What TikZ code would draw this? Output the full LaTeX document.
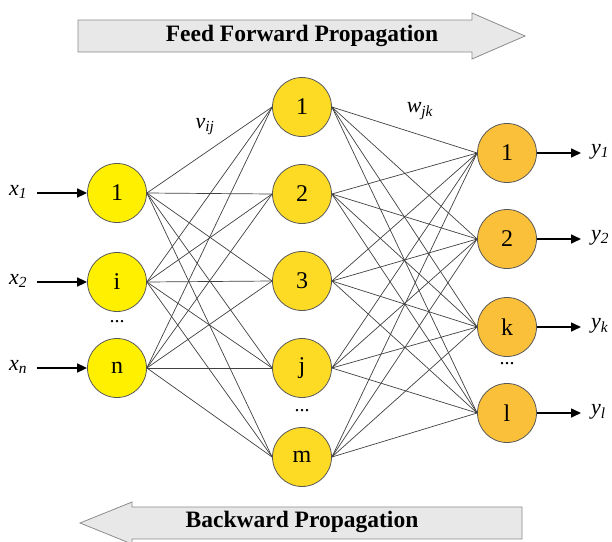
\documentclass[tikz,border=0pt]{standalone}
\usepackage{fontspec}
\setmainfont{Liberation Serif}
\usetikzlibrary{arrows.meta}
\definecolor{inyellow}{RGB}{255,240,0}
\definecolor{hidgold}{RGB}{253,218,36}
\definecolor{outorange}{RGB}{251,192,58}
\definecolor{bandgray}{RGB}{232,232,232}
\newcommand{\sublab}[2]{\textit{#1}\textsubscript{\textit{#2}}}
\tikzset{
	neuron/.style={circle, draw=black!65, line width=0.8pt, minimum size=59pt, inner sep=0pt, font=\fontsize{24}{24}\selectfont},
	weight/.style={draw=black!75, line width=0.7pt},
	signal/.style={-{Triangle[length=10pt,width=9pt]}, line width=1.6pt},
	band/.style={draw=black!45, fill=bandgray, line width=0.8pt},
	varlab/.style={font=\fontsize{22}{22}\selectfont, inner sep=2pt},
	dotlab/.style={font=\fontsize{20}{20}\selectfont},
}

\begin{document}
\begin{tikzpicture}[x=1pt, y=-1pt]
			%%%%% START %%%%%
			\useasboundingbox (0, 0) rectangle (612, 541);
			
			% propagation bands
			\draw[band] (78, 20) -- (472, 20) -- (472, 13) -- (525, 36) -- (472, 59) -- (472, 52) -- (78, 52) -- cycle;
			\node[font=\bfseries\fontsize{23.5}{24}\selectfont] (fwd) at (302, 36) {Feed Forward Propagation};
			\draw[band] (522, 507) -- (132, 507) -- (132, 502) -- (80, 523) -- (132, 544) -- (132, 539) -- (522, 539) -- cycle;
			\node[font=\bfseries\fontsize{23.5}{24}\selectfont] (bwd) at (302, 522) {Backward Propagation};
			
			% input layer
			\node[neuron, fill=inyellow] (i1) at (117, 193) {1};
			\node[neuron, fill=inyellow] (i2) at (117, 282) {i};
			\node[neuron, fill=inyellow] (in) at (117, 368) {n};
			\node[dotlab] (idots) at (117, 322) {...};
			
			% hidden layer
			\node[neuron, fill=hidgold] (h1) at (302, 107) {1};
			\node[neuron, fill=hidgold] (h2) at (302, 194) {2};
			\node[neuron, fill=hidgold] (h3) at (302, 281) {3};
			\node[neuron, fill=hidgold] (hj) at (302, 368) {j};
			\node[neuron, fill=hidgold] (hm) at (302, 457) {m};
			\node[dotlab] (hdots) at (302, 411) {...};
			
			% output layer
			\node[neuron, fill=outorange] (o1) at (507, 153) {1};
			\node[neuron, fill=outorange] (o2) at (507, 239) {2};
			\node[neuron, fill=outorange] (ok) at (507, 327) {k};
			\node[neuron, fill=outorange] (ol) at (507, 413) {l};
			\node[dotlab] (odots) at (507, 364) {...};
			
			% weights
			\foreach \a in {i1, i2, in}
				\foreach \b in {h1, h2, h3, hj, hm}
					\draw[weight] (\a.east) -- (\b.west);
			\foreach \a in {h1, h2, h3, hj, hm}
				\foreach \b in {o1, o2, ok, ol}
					\draw[weight] (\a.east) -- (\b.west);
			\node[varlab] (vij) at (205, 127) {\sublab{v}{ij}};
			\node[varlab] (wjk) at (420, 111) {\sublab{w}{jk}};
			
			% inputs
			\node[varlab] (x1) at (18, 192) {\sublab{x}{1}};
			\node[varlab] (x2) at (18, 281) {\sublab{x}{2}};
			\node[varlab] (xn) at (18, 367) {\sublab{x}{n}};
			\draw[signal, shorten <=8pt] (x1.east |- i1) -- (i1.west);
			\draw[signal, shorten <=8pt] (x2.east |- i2) -- (i2.west);
			\draw[signal, shorten <=8pt] (xn.east |- in) -- (in.west);
			
			% outputs
			\node[varlab, anchor=west] (y1) at (589, 152) {\sublab{y}{1}};
			\node[varlab, anchor=west] (y2) at (589, 238) {\sublab{y}{2}};
			\node[varlab, anchor=west] (yk) at (589, 326) {\sublab{y}{k}};
			\node[varlab, anchor=west] (yl) at (589, 412) {\sublab{y}{l}};
			\draw[signal, shorten >=8pt] (o1.east) -- (y1.west |- o1);
			\draw[signal, shorten >=8pt] (o2.east) -- (y2.west |- o2);
			\draw[signal, shorten >=8pt] (ok.east) -- (yk.west |- ok);
			\draw[signal, shorten >=8pt] (ol.east) -- (yl.west |- ol);
			
			%%%%% END %%%%%
\end{tikzpicture}
\end{document}
